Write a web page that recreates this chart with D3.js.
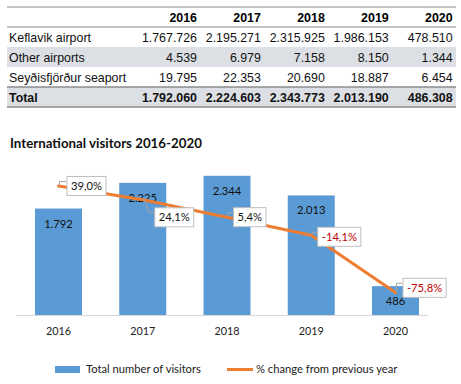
<!DOCTYPE html>
<html>
<head>
<meta charset="utf-8">
<script src="https://cdn.jsdelivr.net/npm/d3@7"></script>
<style>
  body { margin: 0; background: #fff; }
  svg { display: block; }
</style>
</head>
<body>
<div id="chart-area"></div>
<script>
// data
const years = ["2016", "2017", "2018", "2019", "2020"]
const rowNames = ["Keflavik airport", "Other airports", "Seyðisfjörður seaport", "Total"]
const keflavik = [1767726, 2195271, 2315925, 1986153, 478510]
const otherAirports = [4539, 6979, 7158, 8150, 1344]
const seydisfjordur = [19795, 22353, 20690, 18887, 6454]
const totals = [1792060, 2224603, 2343773, 2013190, 486308]
const pctChange = [39.0, 24.1, 5.4, -14.1, -75.8]
const legendNames = ["Total number of visitors", "% change from previous year"]

const W = 461, H = 384
const CHART_FONT = "Lato, 'Open Sans', sans-serif"
const TABLE_FONT = "'Liberation Sans', Arial, sans-serif"

const loc = d3.formatLocale({ decimal: ",", thousands: ".", grouping: [3], currency: ["", ""], minus: "-" })
const fmtInt = loc.format(",d")
const fmtPct = d => loc.format(",.1f")(d) + "%"

const svg = d3.select("#chart-area").append("svg")
  .attr("width", W)
  .attr("height", H)

svg.append("rect").attr("width", W).attr("height", H).attr("fill", "#fff")

// ---------- table ----------
const T = { LEFT: 7, RIGHT: 456, TOP: 7, ROW: 20 }
const colRight = i => 197 + i * 63.9
const rows = [keflavik, otherAirports, seydisfjordur, totals]

const table = svg.append("g")

// shaded rows
;[1, 3].forEach(r => {
  table.append("rect")
    .attr("x", T.LEFT)
    .attr("y", T.TOP + (r + 1) * T.ROW)
    .attr("width", T.RIGHT - T.LEFT)
    .attr("height", T.ROW)
    .attr("fill", "#dcdfe4")
})

// rules
const rules = [
  { y: T.TOP, w: 1.2 },
  { y: T.TOP + T.ROW, w: 1.2 },
  { y: T.TOP + 4 * T.ROW, w: 1.6 },
  { y: T.TOP + 5 * T.ROW, w: 1.6 }
]
rules.forEach(r => {
  table.append("line")
    .attr("x1", T.LEFT).attr("x2", T.RIGHT)
    .attr("y1", r.y).attr("y2", r.y)
    .attr("stroke", "#8c8c8c")
    .attr("stroke-width", r.w)
})

// header
table.selectAll(".head")
  .data(years)
  .join("text")
  .attr("x", (d, i) => colRight(i))
  .attr("y", T.TOP + T.ROW / 2 + 4.5)
  .attr("text-anchor", "end")
  .style("font-family", TABLE_FONT)
  .style("font-size", "12.4px")
  .style("font-weight", "bold")
  .text(d => d)

rows.forEach((vals, r) => {
  const y = T.TOP + (r + 1) * T.ROW + T.ROW / 2 + 4.5
  const bold = r === 3 ? "bold" : "normal"
  table.append("text")
    .attr("x", 9)
    .attr("y", y)
    .style("font-family", TABLE_FONT)
    .style("font-size", "12.4px")
    .style("font-weight", bold)
    .attr("fill", "#111")
    .text(rowNames[r])
  table.selectAll(".row" + r)
    .data(vals)
    .join("text")
    .attr("x", (d, i) => colRight(i))
    .attr("y", y)
    .attr("text-anchor", "end")
    .style("font-family", TABLE_FONT)
    .style("font-size", "12.4px")
    .style("font-weight", bold)
    .attr("fill", "#111")
    .text(d => fmtInt(d))
})

// ---------- chart ----------
svg.append("text")
  .attr("x", 10)
  .attr("y", 148)
  .style("font-family", CHART_FONT)
  .style("font-size", "13.3px")
  .style("font-weight", "bold")
  .attr("fill", "#111")
  .text("International visitors 2016-2020")

const BASE = 315, TOPY = 166.5

const x = d3.scaleBand()
  .domain(years)
  .range([16.4, 437.6])
  .paddingInner(0.442)
  .paddingOuter(0.221)

const y = d3.scaleLinear()
  .domain([0, 2500])
  .range([BASE, TOPY])

const y2 = d3.scaleLinear()
  .domain([-100, 60])
  .range([BASE, TOPY])

const chart = svg.append("g")
const visitors = totals.map(d => d / 1000)

// axis line + labels
chart.append("line")
  .attr("x1", 16).attr("x2", 428)
  .attr("y1", BASE + 0.5).attr("y2", BASE + 0.5)
  .attr("stroke", "#d9d9d9")
  .attr("stroke-width", 1)

const xAxisCall = d3.axisBottom(x).tickSize(0).tickPadding(12)
const xAxis = chart.append("g")
  .attr("transform", `translate(0, ${BASE})`)
  .call(xAxisCall)
xAxis.select(".domain").remove()
xAxis.selectAll("text")
  .style("font-family", CHART_FONT)
  .style("font-size", "10.8px")
  .attr("fill", "#222")

// bars
chart.selectAll(".bar")
  .data(visitors)
  .join("rect")
  .attr("x", (d, i) => x(years[i]))
  .attr("y", d => y(d))
  .attr("width", x.bandwidth())
  .attr("height", d => BASE - y(d))
  .attr("fill", "#5b9bd5")

chart.selectAll(".barlabel")
  .data(visitors)
  .join("text")
  .attr("x", (d, i) => x(years[i]) + x.bandwidth() / 2)
  .attr("y", d => y(d) + 19)
  .attr("text-anchor", "middle")
  .style("font-family", CHART_FONT)
  .style("font-size", "11.2px")
  .attr("fill", "#111")
  .text(d => fmtInt(Math.round(d)))

// line
const cx = i => x(years[i]) + x.bandwidth() / 2
const line = d3.line()
  .x((d, i) => cx(i))
  .y(d => y2(d))

chart.append("path")
  .datum(pctChange)
  .attr("fill", "none")
  .attr("stroke", "#ed7d31")
  .attr("stroke-width", 3)
  .attr("stroke-linejoin", "round")
  .attr("stroke-linecap", "round")
  .attr("d", line)

// percentage labels (box offsets from the point)
const labelDx = [8.5, 12, 6.5, 6.5, 7.5]
const labelDy = [0, 17.5, 0, 1.5, -4.7]
const BOX_H = 19

pctChange.forEach((d, i) => {
  const px = cx(i), py = y2(d)
  const g = chart.append("g")
  const left = px + labelDx[i]
  const midY = py + labelDy[i]
  const t = g.append("text")
    .attr("x", left + 4)
    .attr("y", midY + 4)
    .style("font-family", CHART_FONT)
    .style("font-size", "11.2px")
    .attr("fill", d < 0 ? "#c00000" : "#111")
    .text(fmtPct(d))
  const tw = t.node().getComputedTextLength()
  const boxTop = midY - BOX_H / 2
  const yc = boxTop + 5
  const k = yc > py ? (yc - py) / 2.5 : 0
  g.insert("path", "text")
    .attr("d", `M${px + 1},${py - 1} L${px + 1 + k},${yc} L${left - 1},${yc}`)
    .attr("fill", "none")
    .attr("stroke", "#a6a6a6")
    .attr("stroke-width", 1)
  g.insert("rect", "text")
    .attr("x", left)
    .attr("y", boxTop)
    .attr("width", tw + 8)
    .attr("height", BOX_H)
    .attr("fill", "#fff")
    .attr("stroke", "#bfbfbf")
    .attr("stroke-width", 1)
})

// legend
const legend = svg.append("g")
legend.append("rect")
  .attr("x", 55).attr("y", 366)
  .attr("width", 25).attr("height", 7)
  .attr("fill", "#5b9bd5")
legend.append("text")
  .attr("x", 86).attr("y", 373)
  .style("font-family", CHART_FONT)
  .style("font-size", "11.2px")
  .attr("fill", "#222")
  .text(legendNames[0])
legend.append("line")
  .attr("x1", 227).attr("x2", 253)
  .attr("y1", 369.5).attr("y2", 369.5)
  .attr("stroke", "#ed7d31")
  .attr("stroke-width", 3)
legend.append("text")
  .attr("x", 256).attr("y", 373)
  .style("font-family", CHART_FONT)
  .style("font-size", "11.2px")
  .attr("fill", "#222")
  .text(legendNames[1])
</script>
</body>
</html>
